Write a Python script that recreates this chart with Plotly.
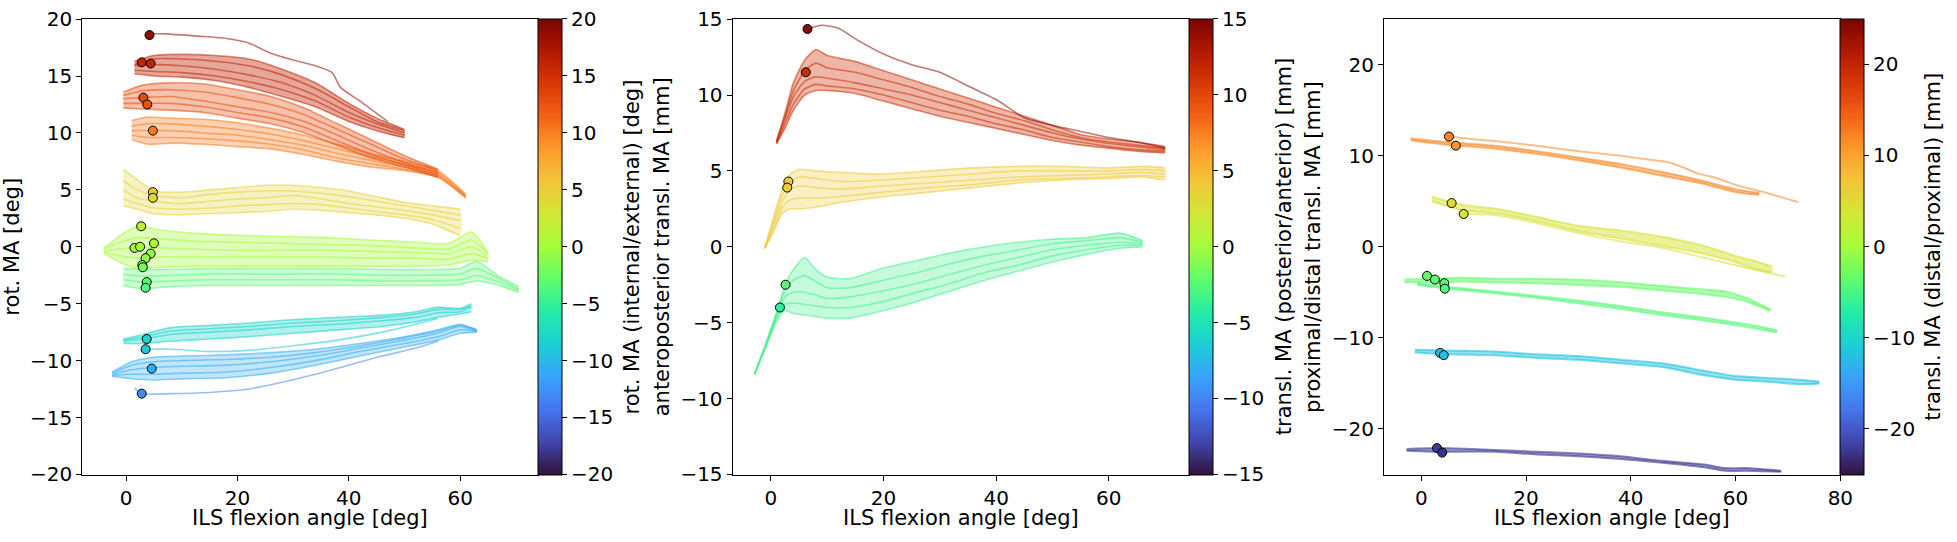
import plotly.graph_objects as go
from plotly.colors import sample_colorscale

# ---------------- Panel 1 : rot. MA [deg] ----------------
P1_RANGE = [-20, 20]
P1_A_VAL = 16.1
P1_A_X = [1.5, 5, 10, 16, 22, 28, 34, 40, 45, 50]
P1_A_Y = [[16.3, 16.8, 16.9, 16.8, 16.5, 15.6, 14.4, 12.6, 11.3, 10.3],
          [16.0, 16.5, 16.5, 16.3, 15.9, 15.1, 13.9, 12.3, 11.0, 10.2],
          [15.9, 16.0, 15.9, 15.6, 15.1, 14.4, 13.3, 11.8, 10.8, 10.0],
          [15.5, 15.4, 15.3, 15.0, 14.5, 13.8, 12.8, 11.4, 10.5, 9.8],
          [15.2, 15.0, 14.9, 14.6, 14.0, 13.2, 12.3, 11.0, 10.2, 9.6]]
P1_TOP_VAL = 18.6
P1_TOP_X = [4.2, 7, 13, 18, 22, 26, 30, 34, 37, 38.5, 42, 47]
P1_TOP_Y = [18.7, 18.7, 18.5, 18.3, 17.9, 17.0, 16.4, 15.9, 15.3, 14.0, 12.8, 11.0]
P1_B_VAL = 12.8
P1_B_X = [-0.5, 3, 8, 14, 20, 26, 32, 38, 44, 50, 56]
P1_B_Y = [[13.6, 14.2, 14.4, 14.3, 13.8, 13.2, 12.2, 10.8, 9.4, 8.0, 6.8],
          [13.3, 13.7, 13.8, 13.6, 13.1, 12.5, 11.6, 10.3, 9.0, 7.7, 6.7],
          [13.0, 13.1, 13.2, 12.8, 12.3, 11.8, 11.0, 9.8, 8.5, 7.4, 6.5],
          [12.6, 12.6, 12.6, 12.3, 11.8, 11.3, 10.5, 9.3, 8.1, 7.2, 6.3],
          [12.2, 12.1, 12.0, 11.8, 11.3, 10.8, 10.0, 8.9, 7.8, 7.0, 6.1]]
P1_C_VAL = 10.2
P1_C_X = [1, 4, 8, 14, 20, 26, 32, 38, 44, 50, 56, 61]
P1_C_Y = [[11.1, 11.4, 11.3, 11.2, 10.9, 10.4, 9.8, 9.0, 8.2, 7.5, 6.7, 4.6],
          [10.6, 10.8, 10.8, 10.6, 10.3, 9.9, 9.3, 8.6, 7.9, 7.2, 6.5, 4.5],
          [10.2, 10.2, 10.2, 10.0, 9.8, 9.4, 8.9, 8.2, 7.6, 7.0, 6.3, 4.4],
          [9.8, 9.6, 9.6, 9.5, 9.3, 9.0, 8.5, 7.8, 7.3, 6.8, 6.2, 4.4],
          [9.4, 9.0, 9.1, 9.0, 8.8, 8.6, 8.1, 7.5, 7.0, 6.7, 6.1, 4.3]]
P1_D_VAL = 4.6
P1_D_X = [-0.5, 2, 5, 10, 15, 20, 25, 30, 35, 40, 45, 50, 55, 60]
P1_D_Y = [[6.8, 5.9, 4.9, 4.8, 5.0, 5.2, 5.4, 5.4, 5.2, 4.9, 4.4, 3.9, 3.6, 3.3],
          [5.8, 5.0, 4.5, 4.3, 4.6, 4.8, 4.9, 4.9, 4.7, 4.4, 4.0, 3.6, 3.2, 2.8],
          [5.0, 4.3, 4.0, 3.8, 4.0, 4.2, 4.3, 4.5, 4.2, 3.8, 3.5, 3.2, 2.8, 2.3],
          [4.2, 3.8, 3.4, 3.3, 3.4, 3.6, 3.7, 3.8, 3.7, 3.4, 3.1, 2.8, 2.4, 1.6],
          [3.6, 3.3, 2.9, 2.8, 2.9, 3.0, 3.1, 3.3, 3.2, 3.0, 2.8, 2.5, 2.0, 1.0]]
P1_E_VAL = 0.0
P1_E_X = [-4, -1, 2, 6, 12, 20, 28, 36, 44, 52, 58, 62, 65]
P1_E_Y = [[-0.1, 1.0, 1.8, 1.5, 1.2, 1.0, 0.9, 0.8, 0.6, 0.4, 0.3, 1.3, -0.5],
          [-0.2, 0.4, 0.8, 0.7, 0.5, 0.4, 0.3, 0.2, 0.1, -0.1, -0.2, 0.6, -0.6],
          [-0.4, -0.2, 0.0, -0.1, -0.2, -0.3, -0.3, -0.3, -0.4, -0.5, -0.6, 0.0, -0.8],
          [-0.5, -0.8, -1.0, -0.9, -0.9, -0.9, -0.9, -0.9, -1.0, -1.0, -1.1, -0.6, -1.0],
          [-0.6, -1.4, -1.9, -1.8, -1.7, -1.7, -1.7, -1.7, -1.7, -1.7, -1.6, -1.2, -1.3]]
P1_F_VAL = -3.2
P1_F_X = [-0.5, 3, 8, 15, 22, 30, 38, 46, 54, 60, 63, 67, 70.5]
P1_F_Y = [[-1.9, -2.0, -2.0, -1.9, -1.9, -1.9, -1.9, -2.0, -2.0, -1.9, -1.3, -2.6, -3.5],
          [-2.4, -2.6, -2.5, -2.4, -2.4, -2.4, -2.4, -2.5, -2.5, -2.4, -1.9, -2.8, -3.7],
          [-2.9, -3.1, -3.0, -2.9, -2.9, -2.9, -2.9, -3.0, -3.0, -2.9, -2.5, -3.1, -3.8],
          [-3.4, -3.7, -3.5, -3.4, -3.4, -3.4, -3.4, -3.4, -3.4, -3.3, -3.0, -3.4, -4.0]]
P1_G_VAL = -8.1
P1_G_X = [-0.5, 3, 8, 15, 22, 30, 38, 46, 52, 56, 60, 62]
P1_G_Y = [[-8.1, -7.7, -7.1, -6.9, -6.7, -6.4, -6.2, -6.0, -5.7, -5.3, -5.4, -5.0],
          [-8.2, -7.9, -7.4, -7.2, -7.0, -6.7, -6.5, -6.2, -5.9, -5.5, -5.5, -5.2],
          [-8.3, -8.1, -7.7, -7.5, -7.3, -7.0, -6.8, -6.5, -6.2, -5.8, -5.7, -5.3],
          [-8.5, -8.5, -8.3, -8.1, -7.9, -7.6, -7.3, -7.0, -6.6, -6.2, -5.9, -5.7]]
P1_G2_VAL = -9.0
P1_G2_X = [3.5, 8, 15, 22, 30, 38, 46, 52, 56]
P1_G2_Y = [-9.0, -9.0, -9.2, -9.1, -8.7, -8.2, -7.5, -6.8, -6.3]
P1_H_VAL = -10.7
P1_H_X = [-2.5, 1, 5, 10, 18, 26, 34, 42, 50, 56, 60, 63]
P1_H_Y = [[-11.0, -10.1, -9.7, -9.6, -9.5, -9.3, -9.0, -8.5, -7.9, -7.3, -6.8, -7.3],
          [-11.1, -10.4, -10.1, -10.0, -9.9, -9.7, -9.3, -8.7, -8.0, -7.4, -6.9, -7.3],
          [-11.2, -10.8, -10.6, -10.5, -10.4, -10.1, -9.6, -8.9, -8.2, -7.6, -7.0, -7.4],
          [-11.3, -11.2, -11.2, -11.1, -11.0, -10.6, -10.0, -9.2, -8.5, -7.9, -7.3, -7.4],
          [-11.4, -11.6, -11.7, -11.6, -11.5, -11.1, -10.4, -9.6, -8.8, -8.2, -7.6, -7.5]]
P1_I_VAL = -12.9
P1_I_X = [1.5, 2.8, 8, 15, 22, 28, 34, 40, 46, 52, 56]
P1_I_Y = [-12.4, -12.9, -12.9, -12.8, -12.5, -11.9, -11.2, -10.4, -9.6, -8.9, -8.3]
P1_MK_X = [4.2, 2.8, 4.4, 3.1, 3.8, 4.8, 4.8, 4.8, 2.7, 1.5, 2.5, 5.0, 4.4, 3.5, 2.9, 3.0, 3.7, 3.5, 3.7, 3.5, 4.6, 2.8]
P1_MK_Y = [18.6, 16.2, 16.1, 13.1, 12.5, 10.2, 4.8, 4.3, 1.8, -0.1, 0.0, 0.3, -0.6, -1.0, -1.6, -1.8, -3.1, -3.6, -8.1, -9.0, -10.7, -12.9]

# ---------------- Panel 2 : anteroposterior transl. MA [mm] ----------------
P2_RANGE = [-15, 15]
P2_TOP_VAL = 14.35
P2_TOP_X = [6.5, 9, 12, 15, 20, 25, 30, 35, 40, 45, 50, 55, 60, 65, 70]
P2_TOP_Y = [14.35, 14.6, 14.4, 13.7, 12.7, 12.0, 11.5, 10.6, 9.7, 8.5, 8.0, 7.6, 7.2, 6.9, 6.5]
P2_R_VAL = 11.5
P2_R_X = [1, 2.5, 4, 6, 8, 10, 15, 20, 25, 30, 35, 40, 45, 50, 55, 60, 65, 70]
P2_R_Y = [[7.0, 8.8, 10.8, 12.3, 13.0, 12.6, 12.2, 11.6, 11.0, 10.4, 9.8, 9.2, 8.6, 8.0, 7.4, 7.1, 6.9, 6.6],
          [6.9, 8.6, 10.3, 11.6, 12.1, 11.8, 11.5, 11.0, 10.5, 9.9, 9.4, 8.8, 8.3, 7.7, 7.2, 6.9, 6.7, 6.5],
          [6.9, 8.4, 9.9, 10.9, 11.2, 11.1, 10.8, 10.4, 10.0, 9.5, 9.0, 8.5, 8.0, 7.5, 7.1, 6.8, 6.6, 6.4],
          [6.8, 8.1, 9.4, 10.4, 10.7, 10.6, 10.4, 10.0, 9.5, 9.0, 8.6, 8.1, 7.7, 7.2, 6.9, 6.6, 6.4, 6.3],
          [6.8, 7.8, 9.0, 10.0, 10.3, 10.3, 10.1, 9.6, 9.1, 8.6, 8.2, 7.8, 7.4, 7.0, 6.7, 6.5, 6.3, 6.2]]
P2_Y_VAL = 4.1
P2_Y_X = [-1.1, 0.5, 2, 3.5, 5, 8, 12, 20, 28, 36, 44, 52, 60, 66, 70]
P2_Y_Y = [[-0.1, 2.0, 3.8, 4.8, 5.1, 5.0, 4.9, 4.8, 5.0, 5.2, 5.3, 5.3, 5.2, 5.3, 5.2],
          [-0.1, 1.7, 3.4, 4.3, 4.6, 4.5, 4.3, 4.4, 4.6, 4.8, 5.0, 5.0, 5.0, 5.1, 5.0],
          [-0.1, 1.5, 3.0, 3.8, 4.0, 3.9, 3.8, 4.0, 4.2, 4.4, 4.6, 4.7, 4.8, 4.9, 4.8],
          [-0.1, 1.2, 2.6, 3.1, 3.2, 3.2, 3.3, 3.6, 3.9, 4.1, 4.4, 4.5, 4.6, 4.7, 4.6],
          [-0.1, 1.0, 2.2, 2.5, 2.5, 2.6, 2.9, 3.3, 3.6, 3.9, 4.2, 4.4, 4.5, 4.6, 4.4]]
P2_G_VAL = -3.3
P2_G_X = [-2.9, -1, 1, 2.5, 4, 6, 8, 10, 14, 20, 26, 32, 38, 44, 50, 56, 62, 66]
P2_G_Y = [[-8.4, -6.5, -4.3, -2.5, -1.5, -0.7, -1.5, -2.0, -2.1, -1.4, -0.9, -0.4, 0.0, 0.3, 0.5, 0.6, 0.9, 0.4],
          [-8.4, -6.5, -4.4, -2.9, -2.2, -1.9, -2.3, -2.7, -2.7, -2.2, -1.7, -1.1, -0.6, -0.2, 0.2, 0.4, 0.6, 0.3],
          [-8.4, -6.6, -4.6, -3.3, -3.0, -3.0, -3.2, -3.4, -3.3, -2.9, -2.4, -1.8, -1.2, -0.7, -0.2, 0.1, 0.3, 0.2],
          [-8.4, -6.6, -4.7, -3.8, -3.7, -3.8, -3.9, -4.0, -4.0, -3.6, -3.0, -2.4, -1.7, -1.2, -0.6, -0.2, 0.1, 0.1],
          [-8.4, -6.7, -4.9, -4.2, -4.4, -4.5, -4.6, -4.7, -4.7, -4.2, -3.6, -2.9, -2.2, -1.6, -1.0, -0.5, -0.1, 0.0]]
P2_MK_X = [6.5, 6.2, 3.1, 2.9, 2.6, 1.6]
P2_MK_Y = [14.35, 11.5, 4.3, 3.9, -2.5, -4.0]

# ---------------- Panel 3 : proximal/distal transl. MA [mm] ----------------
P3_RANGE = [-25, 25]
P3_O_VAL = 12.0
P3_O_X = [-2, 5, 14, 22, 30, 38, 46, 54, 60, 64.5]
P3_O_Y = [[11.9, 11.5, 11.1, 10.5, 9.8, 9.1, 8.2, 7.2, 6.3, 5.9],
          [11.7, 11.2, 10.8, 10.2, 9.5, 8.7, 7.8, 6.9, 6.0, 5.7]]
P3_O2_X = [5.3, 10, 14, 22, 30, 38, 43, 47, 50, 53, 56, 60, 66, 72]
P3_O2_Y = [12.1, 11.8, 11.6, 11.1, 10.5, 10.0, 9.6, 9.3, 8.7, 8.0, 7.6, 6.8, 5.9, 4.9]
P3_Y_VAL = 4.2
P3_Y_X = [2, 8, 14, 22, 30, 38, 46, 54, 60, 64, 67]
P3_Y_Y = [[5.5, 4.6, 4.2, 3.3, 2.3, 1.8, 1.1, 0.1, -1.0, -1.6, -2.2],
          [5.0, 4.0, 3.7, 2.8, 1.7, 0.9, 0.1, -0.8, -1.7, -2.5, -2.8]]
P3_Y2_X = [8.1, 14, 22, 30, 38, 46, 54, 62, 69.5]
P3_Y2_Y = [3.6, 3.5, 2.6, 1.5, 0.6, -0.1, -1.2, -2.3, -3.3]
P3_G1_VAL = -3.4
P3_G1_X = [-3.2, 2, 8, 14, 22, 30, 38, 46, 54, 58, 62, 66.7]
P3_G1_Y = [[-3.6, -3.5, -3.4, -3.5, -3.5, -3.6, -3.9, -4.3, -4.7, -4.9, -5.6, -6.9],
           [-3.9, -3.9, -3.8, -3.9, -4.0, -4.2, -4.4, -4.8, -5.2, -5.5, -6.0, -7.0]]
P3_G2_VAL = -4.3
P3_G2_X = [-0.8, 5, 14, 22, 30, 38, 46, 54, 60, 64, 67.9]
P3_G2_Y = [[-4.0, -4.4, -4.9, -5.4, -5.9, -6.5, -7.2, -7.8, -8.3, -8.7, -9.2],
           [-4.2, -4.6, -5.1, -5.6, -6.2, -6.8, -7.5, -8.1, -8.6, -9.0, -9.4]]
P3_C_VAL = -11.7
P3_C_X = [-1.2, 5, 14, 22, 30, 38, 46, 54, 60, 66, 72, 76]
P3_C_Y = [[-11.3, -11.4, -11.5, -11.8, -12.0, -12.4, -12.8, -13.6, -14.2, -14.4, -14.6, -14.8],
          [-11.6, -11.8, -11.9, -12.2, -12.4, -12.8, -13.2, -14.1, -14.6, -14.8, -15.1, -15.0]]
P3_P_VAL = -22.3
P3_P_X = [-2.8, 3, 14, 22, 30, 38, 46, 54, 58, 62, 68.7]
P3_P_Y = [[-22.2, -22.1, -22.3, -22.5, -22.7, -23.0, -23.5, -23.9, -24.3, -24.3, -24.6],
          [-22.4, -22.5, -22.5, -22.8, -23.0, -23.3, -23.7, -24.2, -24.6, -24.6, -24.7]]
P3_MK_X = [5.3, 6.6, 5.8, 8.1, 1.1, 2.6, 4.4, 4.5, 3.6, 4.3, 3.0, 4.0]
P3_MK_Y = [12.1, 11.1, 4.8, 3.6, -3.2, -3.6, -4.0, -4.6, -11.65, -11.9, -22.1, -22.6]

X_TITLE = "ILS flexion angle [deg]"
Y_TITLES = ["rot. MA [deg]", "anteroposterior transl. MA [mm]", "proximal/distal transl. MA [mm]"]
CB_TITLES = ["rot. MA (internal/external) [deg]", "transl. MA (posterior/anterior) [mm]",
             "transl. MA (distal/proximal) [mm]"]

FONT = "DejaVu Sans"
FS_TICK = 20
FS_LAB = 21
W, H = 1957, 542
EPS = 0.01


def col(v, rng, a):
    f = (v - rng[0]) / (rng[1] - rng[0])
    f = min(max(f, 0.0), 1.0)
    c = sample_colorscale("Turbo", [f])[0]
    r, g, b = [float(t) for t in c[c.find("(") + 1:c.find(")")].split(",")]
    return f"rgba({int(round(r))},{int(round(g))},{int(round(b))},{a})"


fig = go.Figure()


def band(xa, ya, val, x, ys, rng, fill_a=0.3, line_a=0.55, lw=1.6):
    if len(ys) >= 2:
        fig.add_trace(go.Scatter(x=list(x) + list(x)[::-1], y=list(ys[0]) + list(ys[-1])[::-1],
                                 fill="toself", fillcolor=col(val, rng, fill_a), mode="lines",
                                 line=dict(width=0, shape="spline", smoothing=0.6),
                                 xaxis=xa, yaxis=ya, showlegend=False, hoverinfo="skip"))
    for y in ys:
        fig.add_trace(go.Scatter(x=x, y=y, mode="lines",
                                 line=dict(color=col(val, rng, line_a), width=lw, shape="spline", smoothing=0.6),
                                 xaxis=xa, yaxis=ya, showlegend=False, hoverinfo="skip"))


# panel 1
band("x", "y", P1_C_VAL, P1_C_X, P1_C_Y, P1_RANGE, 0.35)
band("x", "y", P1_B_VAL, P1_B_X, P1_B_Y, P1_RANGE, 0.35)
band("x", "y", P1_A_VAL, P1_A_X, P1_A_Y, P1_RANGE, 0.4)
band("x", "y", P1_TOP_VAL, P1_TOP_X, [P1_TOP_Y], P1_RANGE)
band("x", "y", P1_D_VAL, P1_D_X, P1_D_Y, P1_RANGE, 0.3)
band("x", "y", P1_F_VAL, P1_F_X, P1_F_Y, P1_RANGE, 0.3)
band("x", "y", P1_E_VAL, P1_E_X, P1_E_Y, P1_RANGE, 0.35)
band("x", "y", P1_G_VAL, P1_G_X, P1_G_Y, P1_RANGE, 0.35)
band("x", "y", P1_G2_VAL, P1_G2_X, [P1_G2_Y], P1_RANGE)
band("x", "y", P1_H_VAL, P1_H_X, P1_H_Y, P1_RANGE, 0.3)
band("x", "y", P1_I_VAL, P1_I_X, [P1_I_Y], P1_RANGE)
# panel 2
band("x2", "y2", P2_R_VAL, P2_R_X, P2_R_Y, P2_RANGE, 0.35)
band("x2", "y2", P2_TOP_VAL, P2_TOP_X, [P2_TOP_Y], P2_RANGE)
band("x2", "y2", P2_Y_VAL, P2_Y_X, P2_Y_Y, P2_RANGE, 0.3)
band("x2", "y2", P2_G_VAL, P2_G_X, P2_G_Y, P2_RANGE, 0.3)
# panel 3
band("x3", "y3", P3_O_VAL, P3_O_X, P3_O_Y, P3_RANGE, 0.5, 0.6, 2)
band("x3", "y3", P3_O_VAL, P3_O2_X, [P3_O2_Y], P3_RANGE, 0.5, 0.55, 2)
band("x3", "y3", P3_Y_VAL, P3_Y_X, P3_Y_Y, P3_RANGE, 0.5, 0.6, 2)
band("x3", "y3", P3_Y_VAL, P3_Y2_X, [P3_Y2_Y], P3_RANGE, 0.5, 0.55, 2)
band("x3", "y3", P3_G1_VAL, P3_G1_X, P3_G1_Y, P3_RANGE, 0.5, 0.6, 2)
band("x3", "y3", P3_G2_VAL, P3_G2_X, P3_G2_Y, P3_RANGE, 0.5, 0.6, 2)
band("x3", "y3", P3_C_VAL, P3_C_X, P3_C_Y, P3_RANGE, 0.5, 0.6, 2)
band("x3", "y3", P3_P_VAL, P3_P_X, P3_P_Y, P3_RANGE, 0.5, 0.6, 2)

# start markers (drive the colour bars)
for i, (mx, my) in enumerate([(P1_MK_X, P1_MK_Y), (P2_MK_X, P2_MK_Y), (P3_MK_X, P3_MK_Y)]):
    s = "" if i == 0 else str(i + 1)
    fig.add_trace(go.Scatter(x=mx, y=my, mode="markers", xaxis="x" + s, yaxis="y" + s,
                             marker=dict(size=9, color=my, coloraxis="coloraxis" + s,
                                         line=dict(color="black", width=1)),
                             showlegend=False, hoverinfo="skip"))

Y0 = 1 - 484 / H
Y1 = 1 - 7.3 / H
XDOM = [[82.7 / W, 541.7 / W], [737.5 / W, 1196.7 / W], [1393.3 / W, 1852.7 / W]]
XRNG = [[-7.9, 74.0], [-6.8, 74.2], [-7.1, 80.0 + EPS]]
YRNG = [P1_RANGE, P2_RANGE, P3_RANGE]
YTICKS = [list(range(-20, 21, 5)), list(range(-15, 16, 5)), list(range(-20, 21, 10))]
XTICKS = [[0, 20, 40, 60], [0, 20, 40, 60], [0, 20, 40, 60, 80]]


def lab(v):
    return str(v).replace("-", "\u2212")


ax_common = dict(showline=True, mirror=True, linecolor="black", linewidth=1, ticks="outside",
                 ticklen=5, tickwidth=1, tickcolor="black", showgrid=False, zeroline=False,
                 ticklabeloverflow="allow",
                 tickfont=dict(family=FONT, size=FS_TICK, color="black"))
layout = dict(width=W, height=H, margin=dict(l=0, r=0, t=0, b=0), plot_bgcolor="white",
              paper_bgcolor="white", font=dict(family=FONT, size=FS_TICK, color="black"))
annotations = []
for i in range(3):
    s = "" if i == 0 else str(i + 1)
    lo, hi = YRNG[i]
    layout["xaxis" + s] = dict(domain=XDOM[i], range=XRNG[i], anchor="y" + s,
                               tickvals=XTICKS[i], ticktext=[lab(v) for v in XTICKS[i]], **ax_common)
    layout["yaxis" + s] = dict(domain=[Y0, Y1], range=[lo - EPS, hi + EPS], anchor="x" + s,
                               tickvals=YTICKS[i], ticktext=[lab(v) for v in YTICKS[i]], **ax_common)
    layout["coloraxis" + s] = dict(
        colorscale="Turbo", cmin=lo - EPS, cmax=hi + EPS,
        colorbar=dict(x=XDOM[i][1], xanchor="left", xpad=0, y=Y0, yanchor="bottom", ypad=0,
                      len=Y1 - Y0, lenmode="fraction", thickness=24, thicknessmode="pixels",
                      outlinewidth=1, outlinecolor="black", ticks="outside", ticklen=5,
                      ticklabeloverflow="allow",
                      tickcolor="black", tickvals=YTICKS[i], ticktext=[lab(v) for v in YTICKS[i]],
                      tickfont=dict(family=FONT, size=FS_TICK, color="black")))
    annotations.append(dict(text=X_TITLE, x=(XDOM[i][0] + XDOM[i][1]) / 2, y=1 - 529 / H,
                            xref="paper", yref="paper", xanchor="center", yanchor="middle",
                            showarrow=False, font=dict(family=FONT, size=FS_LAB)))

YC = 1 - 245.6 / H
for txt, px in [(Y_TITLES[0], 12), (CB_TITLES[0], 636), (Y_TITLES[1], 666),
                (CB_TITLES[1], 1292), (Y_TITLES[2], 1321), (CB_TITLES[2], 1946)]:
    annotations.append(dict(text=txt, x=px / W, y=YC, xref="paper", yref="paper",
                            xanchor="center", yanchor="middle", textangle=-90,
                            showarrow=False, font=dict(family=FONT, size=FS_LAB)))
layout["annotations"] = annotations
fig.update_layout(**layout)

fig.write_html("out.html", config={"displayModeBar": False},
               post_script="document.body.style.margin='0px';document.body.style.overflow='hidden';")
